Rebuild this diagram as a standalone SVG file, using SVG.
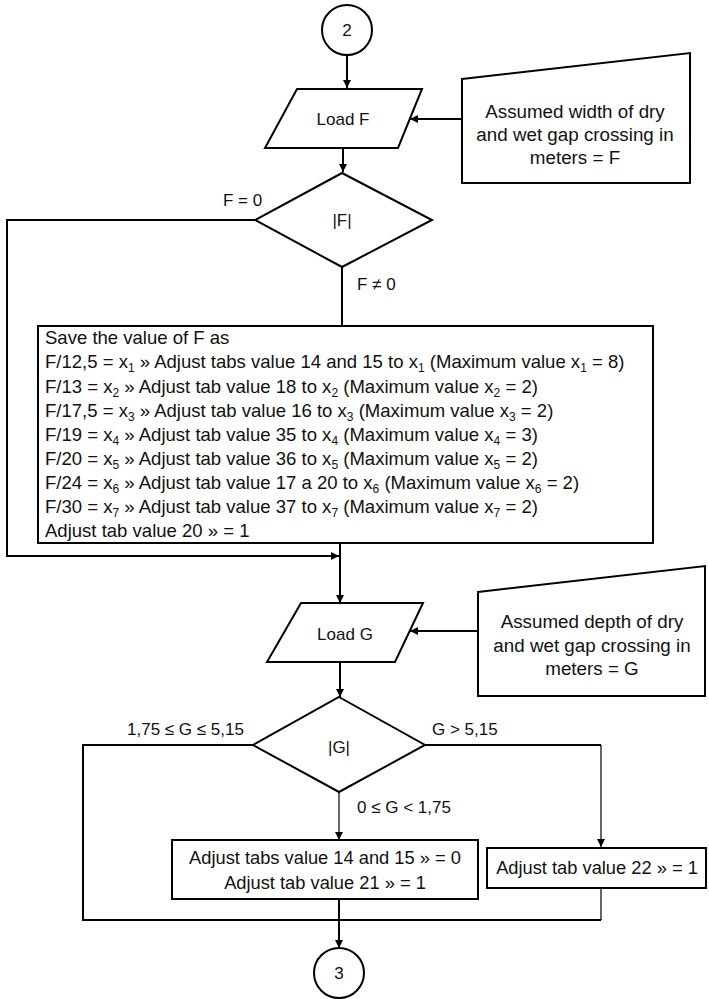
<svg xmlns="http://www.w3.org/2000/svg" width="709" height="999" viewBox="0 0 709 999">
<style>
  .shape{fill:#fff;stroke:#000;stroke-width:2}
  .ln{fill:none;stroke:#000;stroke-width:2}
  .thin{fill:none;stroke:#000;stroke-width:1.2}
  text{font-family:"Liberation Sans",Arial,sans-serif;fill:#111}
  .c{text-anchor:middle;font-size:17px}
  .bc{text-anchor:middle;font-size:18.3px}
  .in{text-anchor:middle;font-size:18.8px}
  .lb{font-size:17px}
  .bx{font-size:18.55px}
  .s{font-size:12px}
</style>
<defs>
  <marker id="ah" markerUnits="userSpaceOnUse" markerWidth="10" markerHeight="10" refX="8" refY="4" orient="auto">
    <path d="M0,0 L8,4 L0,8 Z" fill="#000"/>
  </marker>
</defs>
<rect width="709" height="999" fill="#fff"/>

<g id="connectors">
  <path class="ln" d="M347,55 V88" marker-end="url(#ah)"/>
  <path class="ln" d="M462,119 H410" marker-end="url(#ah)"/>
  <path class="ln" d="M343,148 V172" marker-end="url(#ah)"/>
  <path class="ln" d="M255,220 H7 V556 H339" marker-end="url(#ah)"/>
  <path class="ln" d="M342,267 V326"/>
  <path class="ln" d="M340,543 V603" marker-end="url(#ah)"/>
  <path class="ln" d="M478,631 H410" marker-end="url(#ah)"/>
  <path class="ln" d="M340,662 V697" marker-end="url(#ah)"/>
  <path class="ln" d="M253,745 H83 V920 H601"/>
  <path class="ln" d="M425,745 H601"/>
  <path class="thin" d="M601,745 V847" marker-end="url(#ah)"/>
  <path class="thin" d="M339,792 V840" marker-end="url(#ah)"/>
  <path class="thin" d="M601,888 V920"/>
  <path class="ln" d="M339,899 V948" marker-end="url(#ah)"/>
</g>

<g id="start2">
  <circle class="shape" cx="347" cy="30" r="25"/>
  <text class="c" x="347" y="36">2</text>
</g>

<g id="loadF">
  <polygon class="shape" points="297,89 422,89 398,148 265,148"/>
  <text class="c" x="343" y="125">Load F</text>
</g>

<g id="inputF">
  <polygon class="shape" points="462,79 690,53 690,183 462,183"/>
  <text class="in" x="575" y="118">Assumed width of dry</text>
  <text class="in" x="575" y="141">and wet gap crossing in</text>
  <text class="in" x="575" y="164">meters = F</text>
</g>

<g id="decisionF">
  <polygon class="shape" points="342,173 432,220 342,267 255,220"/>
  <text class="c" x="342" y="226">|F|</text>
  <text class="lb" x="223" y="206">F = 0</text>
  <text class="lb" x="357" y="290">F ≠ 0</text>
</g>

<g id="saveF">
  <rect class="shape" x="38" y="326" width="615" height="217"/>
  <text class="bx" x="45" y="344">Save the value of F as</text>
  <text class="bx" x="45" y="368">F/12,5 = x<tspan class="s" dy="4">1</tspan><tspan dy="-4"> » Adjust tabs value 14 and 15 to x</tspan><tspan class="s" dy="4">1</tspan><tspan dy="-4"> (Maximum value x</tspan><tspan class="s" dy="4">1</tspan><tspan dy="-4"> = 8)</tspan></text>
  <text class="bx" x="45" y="392.5">F/13 = x<tspan class="s" dy="4">2</tspan><tspan dy="-4"> » Adjust tab value 18 to x</tspan><tspan class="s" dy="4">2</tspan><tspan dy="-4"> (Maximum value x</tspan><tspan class="s" dy="4">2</tspan><tspan dy="-4"> = 2)</tspan></text>
  <text class="bx" x="45" y="416.5">F/17,5 = x<tspan class="s" dy="4">3</tspan><tspan dy="-4"> » Adjust tab value 16 to x</tspan><tspan class="s" dy="4">3</tspan><tspan dy="-4"> (Maximum value x</tspan><tspan class="s" dy="4">3</tspan><tspan dy="-4"> = 2)</tspan></text>
  <text class="bx" x="45" y="441">F/19 = x<tspan class="s" dy="4">4</tspan><tspan dy="-4"> » Adjust tab value 35 to x</tspan><tspan class="s" dy="4">4</tspan><tspan dy="-4"> (Maximum value x</tspan><tspan class="s" dy="4">4</tspan><tspan dy="-4"> = 3)</tspan></text>
  <text class="bx" x="45" y="465">F/20 = x<tspan class="s" dy="4">5</tspan><tspan dy="-4"> » Adjust tab value 36 to x</tspan><tspan class="s" dy="4">5</tspan><tspan dy="-4"> (Maximum value x</tspan><tspan class="s" dy="4">5</tspan><tspan dy="-4"> = 2)</tspan></text>
  <text class="bx" x="45" y="489">F/24 = x<tspan class="s" dy="4">6</tspan><tspan dy="-4"> » Adjust tab value 17 a 20 to x</tspan><tspan class="s" dy="4">6</tspan><tspan dy="-4"> (Maximum value x</tspan><tspan class="s" dy="4">6</tspan><tspan dy="-4"> = 2)</tspan></text>
  <text class="bx" x="45" y="513">F/30 = x<tspan class="s" dy="4">7</tspan><tspan dy="-4"> » Adjust tab value 37 to x</tspan><tspan class="s" dy="4">7</tspan><tspan dy="-4"> (Maximum value x</tspan><tspan class="s" dy="4">7</tspan><tspan dy="-4"> = 2)</tspan></text>
  <text class="bx" x="45" y="537">Adjust tab value 20 » = 1</text>
</g>

<g id="loadG">
  <polygon class="shape" points="301,603 423,603 395,662 267,662"/>
  <text class="c" x="345" y="640">Load G</text>
</g>

<g id="inputG">
  <polygon class="shape" points="478,592 705,566 705,696 478,696"/>
  <text class="in" x="592" y="628">Assumed depth of dry</text>
  <text class="in" x="592" y="652">and wet gap crossing in</text>
  <text class="in" x="592" y="675">meters = G</text>
</g>

<g id="decisionG">
  <polygon class="shape" points="339,697 425,745 339,792 253,745"/>
  <text class="c" x="339" y="753">|G|</text>
  <text class="lb" x="127" y="735">1,75 ≤ G ≤ 5,15</text>
  <text class="lb" x="432" y="735">G &gt; 5,15</text>
  <text class="lb" x="357" y="813">0 ≤ G &lt; 1,75</text>
</g>

<g id="adjustLow">
  <rect class="shape" x="172" y="840" width="306" height="59"/>
  <text class="bc" x="325" y="864">Adjust tabs value 14 and 15 » = 0</text>
  <text class="bc" x="325" y="889">Adjust tab value 21 » = 1</text>
</g>

<g id="adjustHigh">
  <rect class="shape" x="487" y="848" width="219" height="40"/>
  <text class="bc" x="597" y="874">Adjust tab value 22 » = 1</text>
</g>

<g id="end3">
  <circle class="shape" cx="339" cy="973" r="25"/>
  <text class="c" x="339" y="979">3</text>
</g>
</svg>
